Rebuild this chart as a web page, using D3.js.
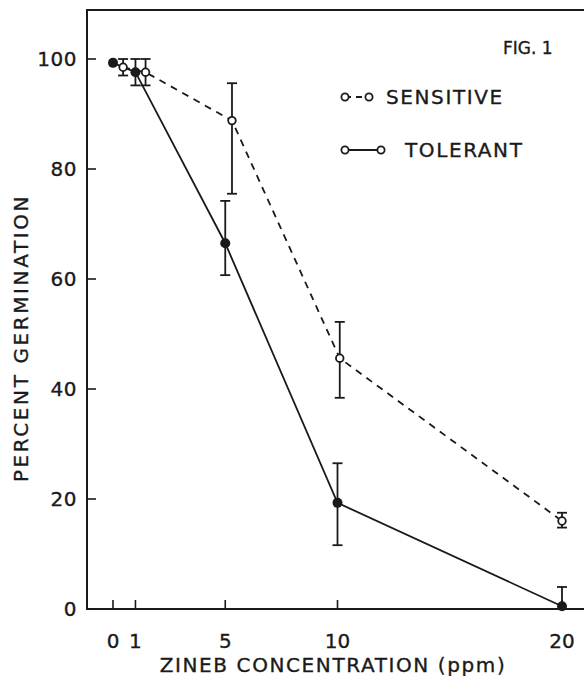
<!DOCTYPE html>
<html>
<head>
<meta charset="utf-8">
<script src="https://cdn.jsdelivr.net/npm/d3@7"></script>
<style>
  html, body { margin: 0; padding: 0; background: #fff; }
  svg { display: block; }
  text { font-family: 'DejaVu Sans', sans-serif; fill: #1a1a1a; stroke: #1a1a1a; stroke-width: 0.35; }
</style>
</head>
<body>
<script>
// zineb concentration (ppm) at which each point is plotted
var tolerantConc = [0, 1, 5, 10, 20];
var tolerantPct = [99.3, 97.6, 66.5, 19.3, 0.5];
var tolerantHi = [99.5, 100, 74.2, 26.5, 4];
var tolerantLo = [99.0, 95.2, 60.7, 11.6, 0.5];

var sensitiveConc = [0.45, 1.45, 5.3, 10.1, 20];
var sensitivePct = [98.5, 97.6, 88.8, 45.6, 16];
var sensitiveHi = [100, 100, 95.6, 52.2, 17.5];
var sensitiveLo = [97, 95.2, 75.5, 38.4, 14.8];

var xTicks = [0, 1, 5, 10, 20];
var yTicks = [0, 20, 40, 60, 80, 100];

var width = 584, height = 676;
var ink = "#1a1a1a";

var svg = d3.select("body").append("svg")
    .attr("width", width)
    .attr("height", height);

var x = d3.scaleLinear().domain([0, 20]).range([113, 562]);
var y = d3.scaleLinear().domain([0, 100]).range([609, 59]);

// plot frame, runs off the right edge like the scan
svg.append("path")
    .attr("d", "M600,10 H87 V609 H600")
    .attr("fill", "none")
    .attr("stroke", ink)
    .attr("stroke-width", 2);

// y ticks point inward
var yAxis = svg.append("g");
yAxis.selectAll("line").data(yTicks).enter().append("line")
    .attr("x1", 87).attr("x2", 96)
    .attr("y1", d => y(d)).attr("y2", d => y(d))
    .attr("stroke", ink).attr("stroke-width", 1.6);
yAxis.selectAll("text").data(yTicks).enter().append("text")
    .attr("x", 77)
    .attr("y", d => y(d) + 7)
    .attr("text-anchor", "end")
    .attr("font-size", 20)
    .attr("letter-spacing", 0.5)
    .text(d => d);

// x ticks point up
var xAxis = svg.append("g");
xAxis.selectAll("line").data(xTicks).enter().append("line")
    .attr("x1", d => x(d)).attr("x2", d => x(d))
    .attr("y1", 609).attr("y2", 600)
    .attr("stroke", ink).attr("stroke-width", 1.6);
xAxis.selectAll("text").data(xTicks).enter().append("text")
    .attr("x", d => x(d))
    .attr("y", 648)
    .attr("text-anchor", "middle")
    .attr("font-size", 20)
    .text(d => d);

svg.append("text")
    .attr("x", 333).attr("y", 672)
    .attr("text-anchor", "middle")
    .attr("font-size", 20)
    .attr("letter-spacing", 1.6)
    .text("ZINEB CONCENTRATION (ppm)");

svg.append("text")
    .attr("transform", "translate(28,338) rotate(-90)")
    .attr("text-anchor", "middle")
    .attr("font-size", 20)
    .attr("letter-spacing", 2.6)
    .text("PERCENT GERMINATION");

function series(conc, pct, hi, lo) {
    return conc.map((c, i) => ({ c: c, p: pct[i], hi: hi[i], lo: lo[i] }));
}
var tolerant = series(tolerantConc, tolerantPct, tolerantHi, tolerantLo);
var sensitive = series(sensitiveConc, sensitivePct, sensitiveHi, sensitiveLo);

var line = d3.line().x(d => x(d.c)).y(d => y(d.p));

function errorBars(data) {
    var g = svg.append("g").attr("stroke", ink).attr("stroke-width", 1.8);
    data.filter(d => d.hi - d.lo > 0.6).forEach(d => {
        var cx = x(d.c);
        g.append("line").attr("x1", cx).attr("x2", cx)
            .attr("y1", y(d.hi)).attr("y2", y(d.lo));
        [d.hi, d.lo].forEach(v => {
            if (v <= 0.6) return;
            g.append("line").attr("x1", cx - 5).attr("x2", cx + 5)
                .attr("y1", y(v)).attr("y2", y(v));
        });
    });
}

errorBars(sensitive);
errorBars(tolerant);

svg.append("path").datum(sensitive)
    .attr("d", line)
    .attr("fill", "none")
    .attr("stroke", ink)
    .attr("stroke-width", 1.8)
    .attr("stroke-dasharray", "7,6");

svg.append("path").datum(tolerant)
    .attr("d", line)
    .attr("fill", "none")
    .attr("stroke", ink)
    .attr("stroke-width", 1.8);

svg.selectAll(".sens").data(sensitive).enter().append("circle")
    .attr("cx", d => x(d.c)).attr("cy", d => y(d.p))
    .attr("r", 3.8)
    .attr("fill", "#fff")
    .attr("stroke", ink)
    .attr("stroke-width", 1.8);

svg.selectAll(".tol").data(tolerant).enter().append("circle")
    .attr("cx", d => x(d.c)).attr("cy", d => y(d.p))
    .attr("r", 5)
    .attr("fill", ink);

// legend and figure label
svg.append("text")
    .attr("x", 503).attr("y", 54)
    .attr("font-size", 17)
    .text("FIG. 1");

var legend = [
    { label: "SENSITIVE", dash: "6,5", y: 97, x2: 369, tx: 386 },
    { label: "TOLERANT", dash: null, y: 150, x2: 381, tx: 405 }
];
legend.forEach(l => {
    var g = svg.append("g");
    g.append("line")
        .attr("x1", 345).attr("x2", l.x2)
        .attr("y1", l.y).attr("y2", l.y)
        .attr("stroke", ink).attr("stroke-width", 1.8)
        .attr("stroke-dasharray", l.dash);
    [345, l.x2].forEach(cx => {
        g.append("circle").attr("cx", cx).attr("cy", l.y).attr("r", 3.6)
            .attr("fill", "#fff").attr("stroke", ink).attr("stroke-width", 1.8);
    });
    g.append("text")
        .attr("x", l.tx).attr("y", l.y + 7)
        .attr("font-size", 20)
        .attr("letter-spacing", 1.6)
        .text(l.label);
});
</script>
</body>
</html>
